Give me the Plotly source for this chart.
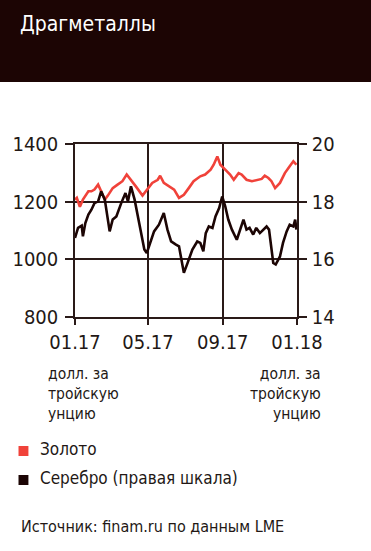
import plotly.graph_objects as go

# ---------------- data ----------------
gold_dates = ["2017-01-01","2017-01-04","2017-01-09","2017-01-14","2017-01-23","2017-01-28",
              "2017-02-02","2017-02-08","2017-02-13","2017-02-19","2017-02-24","2017-03-04",
              "2017-03-12","2017-03-20","2017-03-27","2017-04-03","2017-04-11","2017-04-22",
              "2017-04-30","2017-05-08","2017-05-17","2017-05-21","2017-05-27","2017-06-05",
              "2017-06-13","2017-06-21","2017-06-29","2017-07-07","2017-07-15","2017-07-26",
              "2017-08-03","2017-08-12","2017-08-17","2017-08-23","2017-08-28","2017-09-05",
              "2017-09-13","2017-09-19","2017-09-27","2017-10-02","2017-10-10","2017-10-19",
              "2017-10-27","2017-11-04","2017-11-09","2017-11-15","2017-11-20","2017-11-26",
              "2017-12-04","2017-12-12","2017-12-20","2017-12-26","2017-12-31"]
gold_values = [1207,1213,1182,1207,1236,1236,1242,1259,1236,1207,1221,1247,
               1259,1271,1294,1276,1253,1221,1242,1265,1276,1290,1265,1253,
               1242,1213,1224,1247,1271,1288,1294,1311,1328,1357,1328,1311,
               1294,1276,1299,1294,1276,1271,1276,1279,1290,1282,1271,1247,
               1265,1299,1323,1340,1328]

silver_dates = ["2017-01-01","2017-01-06","2017-01-12","2017-01-14","2017-01-18","2017-01-23",
                "2017-01-28","2017-02-02","2017-02-08","2017-02-13","2017-02-19","2017-02-23",
                "2017-02-27","2017-03-04","2017-03-10","2017-03-18","2017-03-25","2017-03-29",
                "2017-04-03","2017-04-09","2017-04-14","2017-04-20","2017-04-25","2017-04-29",
                "2017-05-06","2017-05-11","2017-05-19","2017-05-27","2017-06-02","2017-06-08",
                "2017-06-16","2017-06-21","2017-06-27","2017-06-29","2017-07-05","2017-07-13",
                "2017-07-21","2017-07-26","2017-07-31","2017-08-04","2017-08-09","2017-08-15",
                "2017-08-20","2017-08-26","2017-08-31","2017-09-05","2017-09-10","2017-09-16",
                "2017-09-24","2017-09-29","2017-10-05","2017-10-10","2017-10-15","2017-10-21",
                "2017-10-26","2017-11-01","2017-11-06","2017-11-12","2017-11-16","2017-11-20",
                "2017-11-23","2017-11-27","2017-12-04","2017-12-09","2017-12-15","2017-12-20",
                "2017-12-26","2017-12-29","2017-12-31"]
silver_values = [16.74,17.09,17.17,16.80,17.26,17.55,17.72,17.95,18.01,18.36,18.07,17.49,
                 16.97,17.38,17.49,17.95,18.30,18.01,18.53,18.07,17.55,16.91,16.34,16.22,
                 16.68,16.97,17.20,17.61,17.03,16.62,16.51,16.45,15.76,15.53,15.87,16.34,
                 16.62,16.57,16.28,16.91,17.14,17.09,17.49,17.78,18.18,17.84,17.38,17.03,
                 16.68,17.03,17.38,17.03,17.09,16.86,17.09,16.91,17.03,17.14,17.03,16.45,
                 15.87,15.82,16.10,16.57,16.97,17.20,17.14,17.38,17.03]

x_tickvals = ["2017-01-01", "2017-05-01", "2017-09-01", "2018-01-01"]
x_ticktext = ["01.17", "05.17", "09.17", "01.18"]
left_ticks = [800, 1000, 1200, 1400]
right_ticks = [14, 16, 18, 20]

title_text = "Драгметаллы"
unit_lines = ["долл. за", "тройскую", "унцию"]
legend_items = ["Золото", "Серебро (правая шкала)"]
source_text = "Источник: finam.ru по данным LME"

# ---------------- style ----------------
W, H = 371, 551
ML, MR, MT, MB = 73, 74, 144, 234
PW, PH = W - ML - MR, H - MT - MB
FONT = "DejaVu Sans Condensed, Liberation Sans Narrow, sans-serif"
RED = "#f0423a"
DARK = "#1c0504"
GRID = "#2a1a18"
TXT = "#231815"

def px(x):
    return (x - ML) / PW

def py(y):
    return (H - MB - y) / PH

fig = go.Figure()
fig.add_trace(go.Scatter(x=gold_dates, y=gold_values, mode="lines",
                         line=dict(color=RED, width=2.6), yaxis="y", showlegend=False))
fig.add_trace(go.Scatter(x=silver_dates, y=silver_values, mode="lines",
                         line=dict(color=DARK, width=2.6), yaxis="y2", showlegend=False))

axis_font = dict(family=FONT, size=20, color=TXT)
fig.update_layout(
    width=W, height=H,
    margin=dict(l=ML, r=MR, t=MT, b=MB, pad=0),
    paper_bgcolor="white", plot_bgcolor="white",
    xaxis=dict(range=["2017-01-01", "2018-01-01"], tickvals=x_tickvals, ticktext=x_ticktext,
               showgrid=True, gridcolor=GRID, gridwidth=1.5,
               showline=True, linecolor=GRID, linewidth=1.5, mirror=True,
               ticks="outside", ticklen=6, tickwidth=1.5, tickcolor=GRID,
               tickfont=axis_font, zeroline=False, fixedrange=True),
    yaxis=dict(range=[800, 1400], tickvals=left_ticks, showgrid=True, gridcolor=GRID, gridwidth=1.5,
               showline=True, linecolor=GRID, linewidth=1.5,
               ticks="outside", ticklen=8, tickwidth=1.5, tickcolor=GRID,
               tickfont=axis_font, zeroline=False, ticklabelstandoff=3),
    yaxis2=dict(range=[14, 20], tickvals=right_ticks, overlaying="y", side="right",
                showgrid=False, showline=True, linecolor=GRID, linewidth=1.5,
                ticks="outside", ticklen=8, tickwidth=1.5, tickcolor=GRID,
                tickfont=axis_font, zeroline=False, ticklabelstandoff=1),
)

shapes = [dict(type="rect", xref="paper", yref="paper", x0=px(-5), x1=px(W + 5), y0=py(82), y1=py(-5),
               fillcolor=DARK, line=dict(width=0), layer="below")]
shapes.append(dict(type="rect", xref="paper", yref="paper", x0=px(16), x1=px(26), y0=py(456), y1=py(446),
                   fillcolor=RED, line=dict(width=0)))
shapes.append(dict(type="rect", xref="paper", yref="paper", x0=px(16), x1=px(26), y0=py(485), y1=py(475),
                   fillcolor=DARK, line=dict(width=0)))
fig.update_layout(shapes=shapes)

ann = []
ann.append(dict(text=title_text, x=px(15), y=py(24), xref="paper", yref="paper",
                xanchor="left", yanchor="middle", showarrow=False,
                font=dict(family=FONT, size=21, color="white")))
unit_text = "<br>".join(unit_lines)
ann.append(dict(text=unit_text, x=px(44), y=py(394), xref="paper", yref="paper",
                xanchor="left", yanchor="middle", align="left", showarrow=False,
                font=dict(family=FONT, size=15.5, color=TXT)))
ann.append(dict(text=unit_text, x=px(323), y=py(394), xref="paper", yref="paper",
                xanchor="right", yanchor="middle", align="right", showarrow=False,
                font=dict(family=FONT, size=15.5, color=TXT)))
for t, yy in zip(legend_items, [449, 478]):
    ann.append(dict(text=t, x=px(36), y=py(yy), xref="paper", yref="paper",
                    xanchor="left", yanchor="middle", showarrow=False,
                    font=dict(family=FONT, size=17, color=TXT)))
ann.append(dict(text=source_text, x=px(16), y=py(526), xref="paper", yref="paper",
                xanchor="left", yanchor="middle", showarrow=False,
                font=dict(family=FONT, size=16, color=TXT)))
fig.update_layout(annotations=ann)

post = ("document.documentElement.style.margin='0';document.body.style.margin='0';"
        "document.body.style.padding='0';document.body.style.overflow='hidden';"
        "var d=document.querySelector('.plotly-graph-div');"
        "if(d){d.style.position='absolute';d.style.left='0px';d.style.top='0px';}")
fig.write_html("out.html", include_plotlyjs=True, config=dict(displayModeBar=False),
               post_script=post)
